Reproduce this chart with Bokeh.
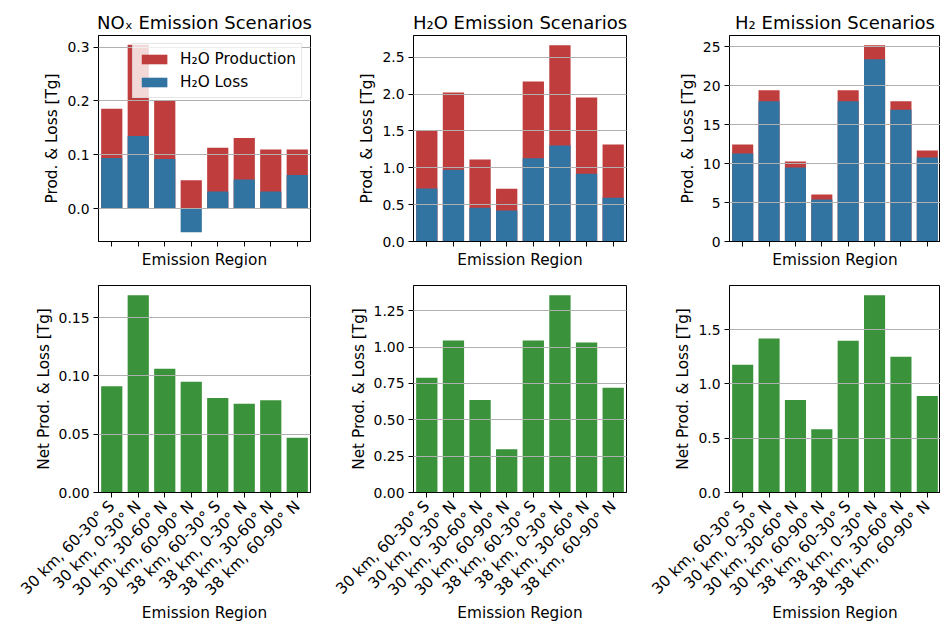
import math
from bokeh.plotting import figure
from bokeh.layouts import row, column
from bokeh.models import Range1d, FixedTicker, NumeralTickFormatter, Legend, LegendItem
from bokeh.embed import file_html
from bokeh.resources import INLINE

# ---------------- data ----------------
regions = ["30 km, 60-30° S", "30 km, 0-30° N", "30 km, 30-60° N", "30 km, 60-90° N",
           "38 km, 60-30° S", "38 km, 0-30° N", "38 km, 30-60° N", "38 km, 60-90° N"]

nox_prod = [0.1855, 0.304, 0.200, 0.053, 0.113, 0.131, 0.110, 0.110]
nox_loss = [0.094, 0.135, 0.092, -0.0435, 0.032, 0.054, 0.032, 0.0625]
nox_net = [0.091, 0.169, 0.106, 0.095, 0.081, 0.076, 0.079, 0.047]

h2o_prod = [1.506, 2.024, 1.112, 0.717, 2.173, 2.663, 1.956, 1.316]
h2o_loss = [0.721, 0.975, 0.458, 0.422, 1.130, 1.302, 0.921, 0.594]
h2o_net = [0.789, 1.045, 0.637, 0.297, 1.045, 1.356, 1.031, 0.720]

h2_prod = [12.46, 19.39, 10.27, 6.04, 19.39, 25.17, 17.98, 11.69]
h2_loss = [11.30, 17.98, 9.50, 5.39, 17.98, 23.37, 16.91, 10.79]
h2_net = [1.176, 1.417, 0.852, 0.583, 1.398, 1.815, 1.250, 0.889]

titles = ["NOₓ Emission Scenarios", "H₂O Emission Scenarios", "H₂ Emission Scenarios"]

nox_top_ticks = [0.0, 0.1, 0.2, 0.3]
h2o_top_ticks = [0.0, 0.5, 1.0, 1.5, 2.0, 2.5]
h2_top_ticks = [0, 5, 10, 15, 20, 25]
nox_net_ticks = [0.0, 0.05, 0.10, 0.15]
h2o_net_ticks = [0.0, 0.25, 0.5, 0.75, 1.0, 1.25]
h2_net_ticks = [0.0, 0.5, 1.0, 1.5]

top_formats = ["0.0", "0.0", "0"]
net_formats = ["0.00", "0.00", "0.0"]

# ---------------- style ----------------
FONT = "DejaVu Sans"
RED = "#c03d3e"
BLUE = "#3274a1"
GREEN = "#3a923a"
TICK_FS = "13.9px"
XTICK_FS = "15.3px"
LABEL_FS = "15.3px"
TITLE_FS = "18px"

FW = [212, 213, 211]
BL = [98, 90, 91]
BR = [13, 12, 0]
FH = [206, 207]
BT = [35, 12]
BB = [32, 124]

xs = list(range(len(regions)))


def style_axes(p):
    for ax in (p.xaxis[0], p.yaxis[0]):
        ax.major_tick_out = 5
        ax.major_tick_in = 0
        ax.minor_tick_out = 0
        ax.minor_tick_in = 0
        ax.major_tick_line_color = "black"
        ax.axis_line_color = "black"
        ax.major_label_text_font = FONT
        ax.major_label_text_font_size = TICK_FS
        ax.major_label_text_color = "black"
        ax.major_label_standoff = 4
        ax.axis_label_text_font = FONT
        ax.axis_label_text_font_size = LABEL_FS
        ax.axis_label_text_font_style = "normal"
        ax.axis_label_text_color = "black"
    p.xgrid.visible = False
    p.ygrid.grid_line_color = "#b0b0b0"
    p.ygrid.grid_line_width = 1
    p.ygrid.level = "guide"
    p.outline_line_color = "black"
    p.outline_line_width = 1
    p.background_fill_color = "white"
    p.border_fill_color = "white"


def make_fig(col, rw, y_lo, y_hi):
    p = figure(frame_width=FW[col], frame_height=FH[rw],
               min_border_left=BL[col], min_border_right=BR[col],
               min_border_top=BT[rw], min_border_bottom=BB[rw],
               x_range=Range1d(-0.5, len(regions) - 0.5),
               y_range=Range1d(y_lo, y_hi),
               output_backend="svg", toolbar_location=None, tools="")
    style_axes(p)
    p.xaxis[0].ticker = FixedTicker(ticks=xs)
    p.xaxis[0].axis_label = "Emission Region"
    return p


top_data = [(nox_prod, nox_loss, nox_top_ticks), (h2o_prod, h2o_loss, h2o_top_ticks),
            (h2_prod, h2_loss, h2_top_ticks)]
net_data = [(nox_net, nox_net_ticks), (h2o_net, h2o_net_ticks), (h2_net, h2_net_ticks)]

top_figs = []
for c, (prod, loss, ticks) in enumerate(top_data):
    lo = min(0, min(loss))
    hi = max(prod)
    pad = 0.05 * (hi - lo)
    p = make_fig(c, 0, lo - pad if lo < 0 else 0, hi + pad)
    rp = p.vbar(x=xs, top=prod, bottom=0, width=0.8, fill_color=RED, line_color=None)
    rl = p.vbar(x=xs, top=loss, bottom=0, width=0.8, fill_color=BLUE, line_color=None)
    p.yaxis[0].ticker = FixedTicker(ticks=ticks)
    p.yaxis[0].formatter = NumeralTickFormatter(format=top_formats[c])
    p.yaxis[0].axis_label = "Prod. & Loss [Tg]"
    p.yaxis[0].axis_label_standoff = 3
    p.xaxis[0].major_label_overrides = {i: "" for i in xs}
    p.xaxis[0].major_label_standoff = 0
    p.xaxis[0].axis_label_standoff = 4
    p.title.text = titles[c]
    p.title.align = "center"
    p.title.text_font = FONT
    p.title.text_font_size = TITLE_FS
    p.title.text_font_style = "normal"
    p.title.text_color = "black"
    p.title.standoff = 5
    if c == 0:
        legend = Legend(items=[LegendItem(label="H₂O Production", renderers=[rp]),
                               LegendItem(label="H₂O Loss", renderers=[rl])],
                        location="top_right", margin=8, padding=5, spacing=3,
                        glyph_width=32, glyph_height=12, label_height=20,
                        label_standoff=10, label_text_font=FONT,
                        label_text_font_size=LABEL_FS, label_text_color="black",
                        border_line_color="#cccccc", background_fill_alpha=0.8)
        p.add_layout(legend)
    top_figs.append(p)

net_figs = []
for c, (net, ticks) in enumerate(net_data):
    p = make_fig(c, 1, 0, max(net) * 1.05)
    p.vbar(x=xs, top=net, bottom=0, width=0.8, fill_color=GREEN, line_color=None)
    p.yaxis[0].ticker = FixedTicker(ticks=ticks)
    p.yaxis[0].formatter = NumeralTickFormatter(format=net_formats[c])
    p.yaxis[0].axis_label = "Net Prod. & Loss [Tg]"
    p.yaxis[0].axis_label_standoff = 3
    p.xaxis[0].major_label_overrides = {i: r for i, r in enumerate(regions)}
    p.xaxis[0].major_label_orientation = math.pi / 4
    p.xaxis[0].major_label_text_font_size = XTICK_FS
    p.xaxis[0].major_label_standoff = 6
    p.xaxis[0].axis_label_standoff = -4
    net_figs.append(p)

layout = column(row(*top_figs), row(*net_figs))

with open("out.html", "w") as f:
    f.write(file_html(layout, INLINE))
